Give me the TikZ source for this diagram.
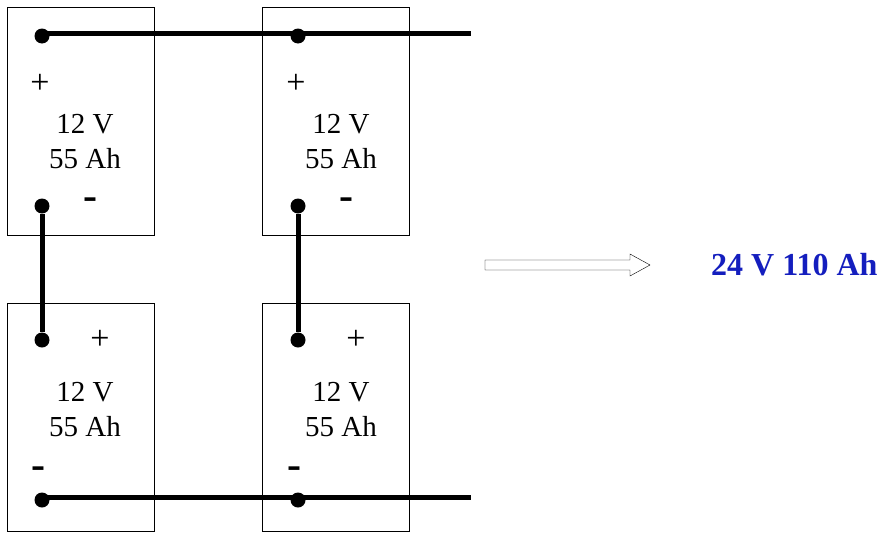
\documentclass[tikz,border=0pt]{standalone}
\usepackage{fontspec}
\setmainfont{Liberation Serif}
\begin{document}
\begin{tikzpicture}[x=1pt,y=-1pt,
  batt/.style={draw,thin,minimum width=147pt,minimum height=228pt,inner sep=0pt},
  term/.style={circle,fill,minimum size=15pt,inner sep=0pt},
  wire/.style={line width=5pt},
  lbl/.style={font=\fontsize{29}{35}\selectfont,align=center,inner sep=0pt},
  plus/.style={font=\fontsize{34}{34}\selectfont,inner sep=0pt},
  minus/.style={font=\fontsize{42}{42}\selectfont\bfseries,inner sep=0pt}]
\useasboundingbox (0,0) rectangle (889,541);
\node[batt] (b1) at (80.5,121) {};
\node[batt] (b2) at (336,121) {};
\node[batt] (b3) at (80.5,417) {};
\node[batt] (b4) at (336,417) {};
\node[term] (p1) at (42,36) {}; \node[term] (n1) at (42,206) {};
\node[term] (p2) at (298,36) {}; \node[term] (n2) at (298,206) {};
\node[term] (p3) at (42,340) {}; \node[term] (n3) at (42,500) {};
\node[term] (p4) at (298,340) {}; \node[term] (n4) at (298,500) {};
\coordinate (te) at (471,33);
\coordinate (be) at (471,497);
\draw[wire] (42,33) -- (te);
\draw[wire] (42,497) -- (be);
\draw[wire] (n1) -- (p3);
\draw[wire] (n2) -- (p4);
\foreach \dx/\n in {0/a,256/b}{
  \node[plus] (pl\n) at (40+\dx,84) {+};
  \node[lbl] (t\n) at (85+\dx,142) {12 V\\55 Ah};
  \node[minus] (m\n) at (90+\dx,204) {-};
  \node[plus] (plb\n) at (100+\dx,340) {+};
  \node[lbl] (tb\n) at (85+\dx,410) {12 V\\55 Ah};
  \node[minus] (mb\n) at (38+\dx,473) {-};
}
\draw[thin] (485,260) -- (630,260) -- (630,254) -- (650,265) -- (630,276) -- (630,270) -- (485,270) -- cycle;
\node[font=\fontsize{32}{38}\selectfont\bfseries,text={rgb,255:red,20;green,30;blue,190},inner sep=0pt,anchor=west] (res) at (711,265) {24 V 110 Ah};
\end{tikzpicture}
\end{document}
